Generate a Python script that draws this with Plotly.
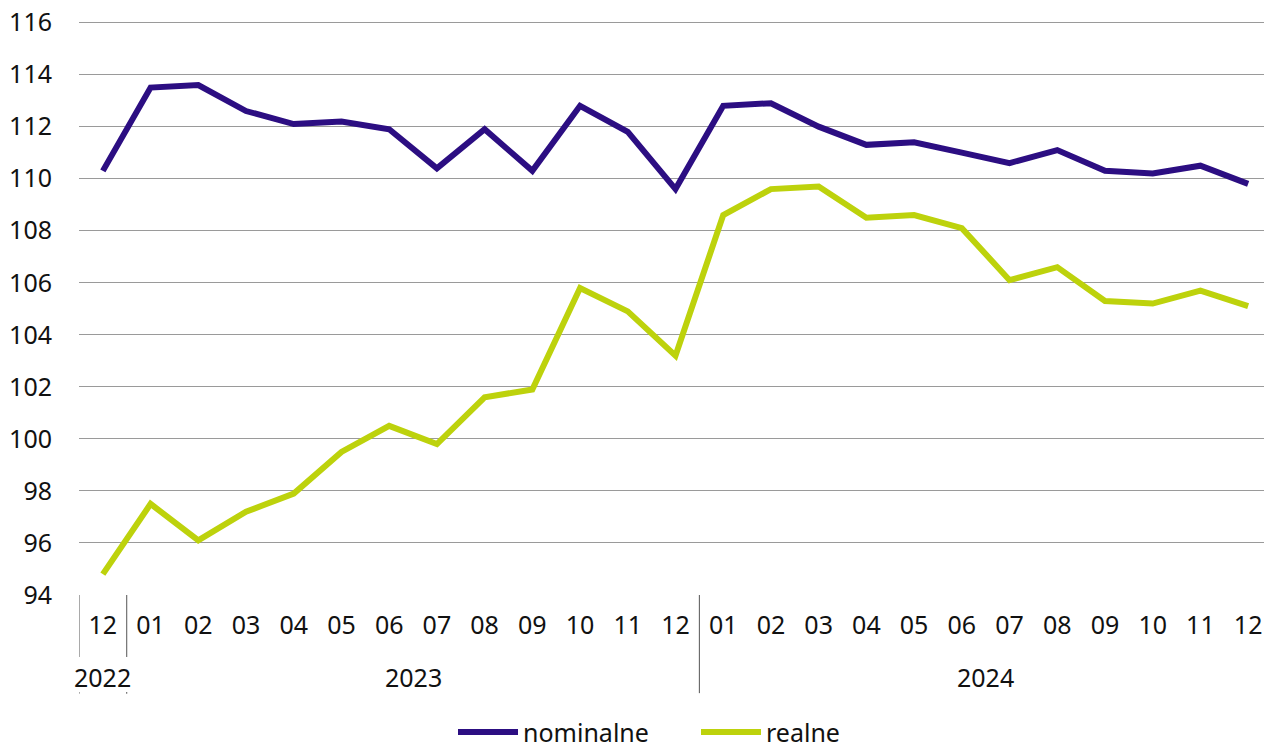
import plotly.graph_objects as go

months = ["12", "01", "02", "03", "04", "05", "06", "07", "08", "09", "10", "11", "12",
          "01", "02", "03", "04", "05", "06", "07", "08", "09", "10", "11", "12"]
years = ["2022", "2023", "2024"]
year_counts = [1, 12, 12]
nominalne = [110.3, 113.5, 113.6, 112.6, 112.1, 112.2, 111.9, 110.4, 111.9, 110.3, 112.8, 111.8, 109.6,
             112.8, 112.9, 112.0, 111.3, 111.4, 111.0, 110.6, 111.1, 110.3, 110.2, 110.5, 109.8]
realne = [94.8, 97.5, 96.1, 97.2, 97.9, 99.5, 100.5, 99.8, 101.6, 101.9, 105.8, 104.9, 103.2,
          108.6, 109.6, 109.7, 108.5, 108.6, 108.1, 106.1, 106.6, 105.3, 105.2, 105.7, 105.1]
y_ticks = list(range(94, 117, 2))

FONT = "Noto Sans"
xs = list(range(len(months)))

fig = go.Figure()
fig.add_trace(go.Scatter(x=xs, y=nominalne, mode="lines", name="nominalne",
                         line=dict(color="#2C0E82", width=6)))
fig.add_trace(go.Scatter(x=xs, y=realne, mode="lines", name="realne",
                         line=dict(color="#BDD20C", width=6)))

shapes = []
annotations = []
start = 0
bounds = [-0.5]
for yr, cnt in zip(years, year_counts):
    center = start + (cnt - 1) / 2
    annotations.append(dict(x=center, y=-0.143, xref="x", yref="paper", text=yr,
                            showarrow=False, font=dict(family=FONT, size=25, color="#111"),
                            yanchor="middle"))
    start += cnt
    bounds.append(start - 0.5)
for b in bounds[:-1]:
    if b in (-0.5, 0.5):
        shapes.append(dict(type="line", xref="x", yref="paper", x0=b, x1=b, y0=0, y1=-0.108,
                           line=dict(color="#555", width=1)))
        shapes.append(dict(type="line", xref="x", yref="paper", x0=b, x1=b, y0=-0.169, y1=-0.172,
                           line=dict(color="#555", width=1)))
    else:
        shapes.append(dict(type="line", xref="x", yref="paper", x0=b, x1=b, y0=0, y1=-0.171,
                           line=dict(color="#555", width=1)))

fig.update_layout(
    width=1264, height=742,
    margin=dict(l=71, r=0, t=13, b=155, autoexpand=False),
    paper_bgcolor="white", plot_bgcolor="white",
    font=dict(family=FONT, size=25, color="#111"),
    shapes=shapes, annotations=annotations,
    legend=dict(orientation="h", x=0.3135, xanchor="left", y=0.024, yanchor="middle",
                yref="container",
                font=dict(family=FONT, size=25, color="#111"), itemwidth=60,
                entrywidth=168, tracegroupgap=0),
)
fig.update_xaxes(range=[-0.5, len(months) - 0.5], tickmode="array", tickvals=xs, ticktext=months,
                 showgrid=False, zeroline=False, showline=False, ticks="",
                 ticklabelstandoff=13, tickfont=dict(family=FONT, size=25, color="#111"))
fig.update_yaxes(range=[94, 116.06], tickmode="array", tickvals=y_ticks,
                 showgrid=True, gridcolor="#9a9a9a", gridwidth=1, zeroline=False,
                 showline=False, ticks="", ticklabelstandoff=26, ticklabeloverflow="allow",
                 tickfont=dict(family=FONT, size=25, color="#111"))

fig.write_html("out.html")
